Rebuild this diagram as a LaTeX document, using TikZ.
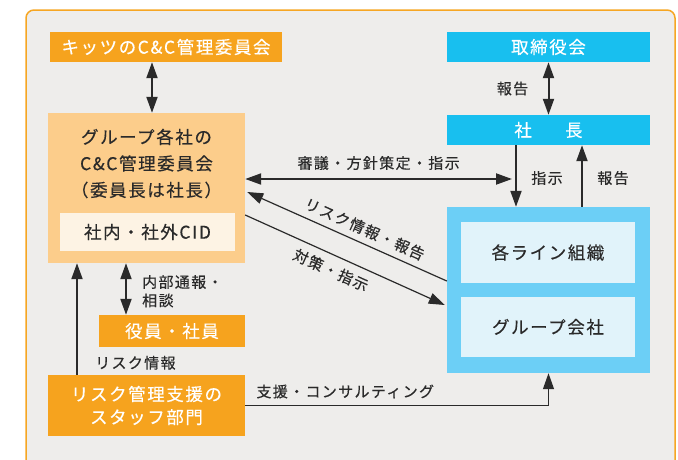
\documentclass[tikz,border=0pt]{standalone}
\usepackage{fontspec}
\setmainfont{Noto Sans CJK JP}[LetterSpace=9, FakeBold=0.35]
\usetikzlibrary{arrows.meta,calc}
\definecolor{bgc}{HTML}{EEEDEB}
\definecolor{framec}{HTML}{F6A623}
\definecolor{orng}{HTML}{F6A31E}
\definecolor{lorng}{HTML}{FCCD8B}
\definecolor{cream}{HTML}{FDF3E4}
\definecolor{cyanc}{HTML}{18BFEF}
\definecolor{bluec}{HTML}{6CCFF6}
\definecolor{lblue}{HTML}{E1F3FA}
\definecolor{txt}{HTML}{2A2A2A}
\tikzset{
  box/.style={inner sep=0pt, anchor=center, align=center},
  obox/.style={box, fill=orng, text=white, font=\fontsize{17.5}{22}\selectfont},
  cbox/.style={box, fill=cyanc, text=white, font=\fontsize{17.5}{22}\selectfont},
  ibox/.style={box, text=txt, font=\fontsize{17.5}{22}\selectfont},
  lbl/.style={text=txt, font=\fontsize{15}{18.5}\selectfont, inner sep=0pt},
  arr/.style={draw=txt, line width=2pt, -{Triangle[length=16pt,width=11pt]}},
  dbl/.style={draw=txt, line width=2pt, {Triangle[length=16pt,width=11pt]}-{Triangle[length=16pt,width=11pt]}},
  tarr/.style={draw=txt, line width=1.2pt, -{Triangle[length=16pt,width=11pt]}},
}
\begin{document}
\begin{tikzpicture}[x=1pt,y=-1pt]
\useasboundingbox (0,0) rectangle (678,459);
\fill[white] (0,0) rectangle (678,459);
\draw[framec, line width=1.5pt, fill=bgc, rounded corners=8pt] (26,10) rectangle (675,480);

% left column
\node[obox, minimum width=232pt, minimum height=30pt] (kitz) at (166,47) {キッツのC\&C管理委員会};
\node[box, fill=lorng, minimum width=197pt, minimum height=150pt] (group) at (146.5,188) {};
\node[ibox, font=\fontsize{17.5}{26.5}\selectfont] (gtext) at (146.5,163.5) {グループ各社の\\C\&C管理委員会\\（委員長は社長）};
\node[ibox, fill=cream, minimum width=175pt, minimum height=38pt] (cid) at (147.5,232) {社内・社外CID};
\node[obox, minimum width=146pt, minimum height=32pt] (yakuin) at (172,331) {役員・社員};
\node[obox, minimum width=197pt, minimum height=61pt, font=\fontsize{17.5}{23}\selectfont] (staff) at (146.5,405.5) {リスク管理支援の\\スタッフ部門};

% right column
\node[cbox, minimum width=203pt, minimum height=30pt] (board) at (548.5,47) {取締役会};
\node[cbox, minimum width=203pt, minimum height=30pt] (pres) at (548.5,130) {社\hspace{1.9em}長};
\node[box, fill=bluec, minimum width=203pt, minimum height=166pt] (blue) at (548.5,290) {};
\node[ibox, fill=lblue, minimum width=174pt, minimum height=61pt] (line) at (548,252.5) {各ライン組織};
\node[ibox, fill=lblue, minimum width=174pt, minimum height=60pt] (gcomp) at (548,327) {グループ会社};

% connectors
\coordinate (k1) at ([xshift=-14pt]kitz.south);
\draw[dbl] (k1) -- (k1 |- group.north);

\coordinate (c1) at ([xshift=-20.5pt]group.south);
\draw[dbl] (c1) -- (c1 |- yakuin.north);
\node[lbl, anchor=west, align=left] (naibu) at ([xshift=16pt,yshift=-28pt]c1) {内部通報・\\相談};

\coordinate (c2) at ([xshift=-69.5pt]staff.north);
\draw[arr] (c2) -- (c2 |- group.south);
\node[lbl, anchor=west] (riskj) at ([xshift=18pt,yshift=12pt]c2) {リスク情報};

\draw[tarr] (staff.east) -| (blue.south)
  node[lbl, pos=0.165, yshift=14pt] (shien) {支援・コンサルティング};

\draw[dbl] (board.south) -- (pres.north)
  node[lbl, midway, xshift=-36pt] (hou1) {報告};

\coordinate (c3) at ([xshift=-32.5pt]pres.south);
\draw[arr] (c3) -- (c3 |- blue.north)
  node[lbl, midway, xshift=31pt, yshift=-2pt] (shiji) {指示};
\coordinate (c4) at ([xshift=33.5pt]blue.north);
\draw[arr] (c4) -- (c4 |- pres.south)
  node[lbl, midway, xshift=31pt, yshift=-2pt] (hou2) {報告};

\coordinate (h1) at ([yshift=9pt]group.east);
\coordinate (h2) at (h1 -| c3);
\draw[dbl] (h1) -- ([xshift=-4pt]h2)
  node[lbl, midway, yshift=16pt] (shingi) {審議・方針策定・指示};

\draw[tarr] ([yshift=9pt]blue.west) -- ([xshift=2pt,yshift=-4pt]group.east)
  node[lbl, pos=0.44, sloped, yshift=14pt] (riskh) {リスク情報・報告};
\draw[tarr] ([yshift=-27pt]group.east) -- ([xshift=-2pt,yshift=-15pt]blue.west)
  node[lbl, pos=0.46, sloped, yshift=-15pt] (taisaku) {対策・指示};
\end{tikzpicture}
\end{document}
